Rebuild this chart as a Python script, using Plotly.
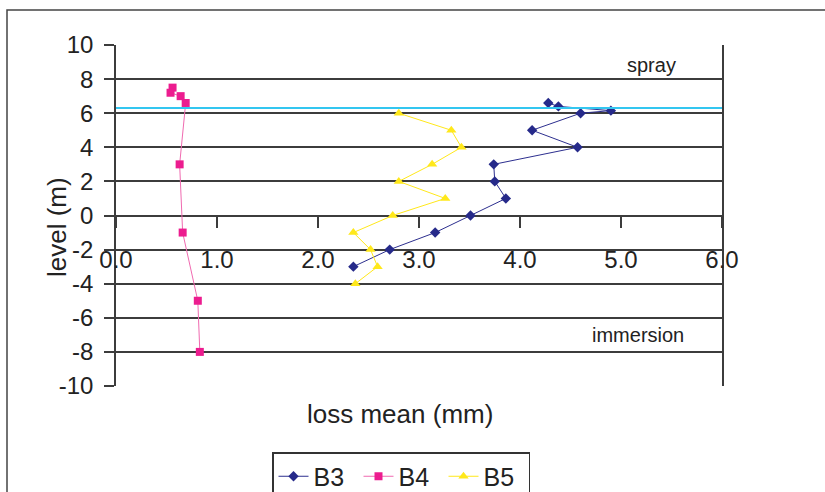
import plotly.graph_objects as go

# ---- data ----
b3_loss = [4.28, 4.38, 4.90, 4.60, 4.12, 4.57, 3.74, 3.75, 3.86, 3.51, 3.16, 2.71, 2.35]
b3_level = [6.6, 6.4, 6.15, 6.0, 5.0, 4.0, 3.0, 2.0, 1.0, 0.0, -1.0, -2.0, -3.0]

b4_loss = [0.56, 0.54, 0.64, 0.69, 0.63, 0.66, 0.81, 0.83]
b4_level = [7.5, 7.2, 7.0, 6.6, 3.0, -1.0, -5.0, -8.0]

b5_loss = [2.80, 3.32, 3.42, 3.13, 2.80, 3.26, 2.74, 2.35, 2.52, 2.59, 2.37]
b5_level = [6.0, 5.0, 4.0, 3.0, 2.0, 1.0, 0.0, -1.0, -2.0, -3.0, -4.0]

spray_level = 6.3
x_ticks = [0, 1, 2, 3, 4, 5, 6]
x_tick_text = ["0.0", "1.0", "2.0", "3.0", "4.0", "5.0", "6.0"]
y_ticks = [-10, -8, -6, -4, -2, 0, 2, 4, 6, 8, 10]
y_tick_text = ["-10", "-8", "-6", "-4", "-2", "0", "2", "4", "6", "8", "10"]

FONT = "Liberation Sans, Arial, sans-serif"
GRID = "#3c3c3c"
TXT = "#222222"

W, H = 825, 492
L, R, T, B = 116, 103, 45, 106
PW, PH = W - L - R, H - T - B


def px_x(p):
    return (p - L) / PW


def px_y(p):
    return (H - B - p) / PH


fig = go.Figure()
fig.add_trace(go.Scatter(x=b3_loss, y=b3_level, name="B3", mode="lines+markers",
                         line=dict(color="#2d2f8f", width=1),
                         marker=dict(symbol="diamond", size=8, color="#262a8a")))
fig.add_trace(go.Scatter(x=b4_loss, y=b4_level, name="B4", mode="lines+markers",
                         line=dict(color="#f06ab0", width=1),
                         marker=dict(symbol="square", size=8, color="#ec1c8f")))
fig.add_trace(go.Scatter(x=b5_loss, y=b5_level, name="B5", mode="lines+markers",
                         line=dict(color="#ffe81a", width=1),
                         marker=dict(symbol="triangle-up", size=9, color="#ffe81a")))

# spray zone boundary
fig.add_shape(type="line", xref="x domain", yref="y", x0=0, x1=1,
              y0=spray_level, y1=spray_level, line=dict(color="#33c6f0", width=2),
              layer="above")
# outer frame of the figure
fig.add_shape(type="rect", xref="paper", yref="paper",
              x0=px_x(7), x1=px_x(840), y0=px_y(510), y1=px_y(10),
              line=dict(color="#444444", width=1.5), fillcolor="rgba(0,0,0,0)")

fig.add_annotation(text="spray", xref="x", yref="y", x=5.3, y=8.8, showarrow=False,
                   font=dict(family=FONT, size=20, color=TXT))
fig.add_annotation(text="immersion", xref="x", yref="y", x=5.17, y=-7.0, showarrow=False,
                   font=dict(family=FONT, size=20, color=TXT))
fig.add_annotation(text="loss mean (mm)", xref="paper", yref="paper",
                   x=px_x(400), y=px_y(431), showarrow=False,
                   font=dict(family=FONT, size=26, color=TXT))
fig.add_annotation(text="level (m)", xref="paper", yref="paper", textangle=-90,
                   x=px_x(40), y=px_y(227), showarrow=False,
                   font=dict(family=FONT, size=26, color=TXT))

fig.update_layout(
    width=W, height=H,
    margin=dict(l=L, r=R, t=T, b=B, autoexpand=False),
    paper_bgcolor="white", plot_bgcolor="white",
    font=dict(family=FONT, size=24, color=TXT),
    xaxis=dict(range=[0, 6], tickvals=x_ticks, ticktext=x_tick_text,
               anchor="free", position=0.5, showgrid=False, zeroline=False,
               showline=False, ticks="outside", ticklen=11, tickwidth=1.5,
               tickcolor=GRID, ticklabelstandoff=12,
               tickfont=dict(family=FONT, size=24, color=TXT)),
    yaxis=dict(range=[-10, 10], tickvals=y_ticks, ticktext=y_tick_text,
               showgrid=True, gridcolor=GRID,
               gridwidth=1.5, zeroline=False, showline=True, linecolor=GRID,
               linewidth=1.5, mirror=True, ticks="outside", ticklen=10,
               tickwidth=1.5, tickcolor=GRID, ticklabelstandoff=6,
               tickfont=dict(family=FONT, size=24, color=TXT)),
    legend=dict(orientation="h", x=px_x(272), y=px_y(452),
                xanchor="left", yanchor="top", bordercolor="#333333", borderwidth=1.5,
                font=dict(family=FONT, size=25, color=TXT), bgcolor="white",
                entrywidth=40, entrywidthmode="pixels", itemwidth=30, tracegroupgap=0),
    showlegend=True,
)

fig.write_html("out.html", config={"displayModeBar": False},
               post_script="document.body.style.margin='0px';")
